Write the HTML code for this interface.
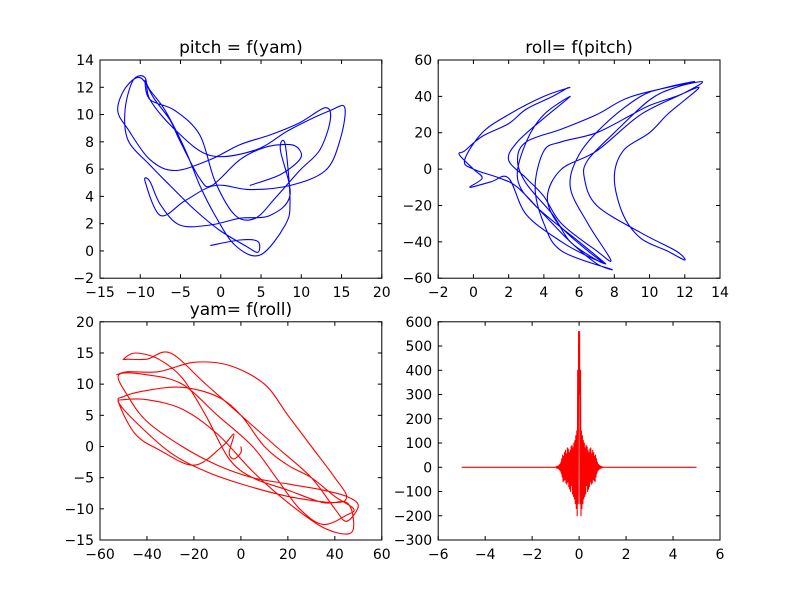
<!DOCTYPE html>
<html><head><meta charset="utf-8"><style>
body{margin:0;background:#fff;}
svg{display:block;font-family:"DejaVu Sans","Liberation Sans",sans-serif;}
</style></head><body>
<svg id="fig" width="800" height="600" viewBox="0 0 800 600"></svg>
<script>
// ---- data ----
const yamTL=[-1.3,2.4,4.6,4.6,3.0,-0.1,-3.2,-6.3,-8.8,-11.5,-11.9,-10.9,-9.4,-8.8,-5.7,-1.3,4.3,8.6,13.6,15.4,14.8,13.0,8.6,3.6,-0.7,-4.4,-7.5,-9.4,-8.8,-7.5,-5.1,-1.3,2.4,6.1,8.6,7.4,8.0,8.6,8.0,4.9,1.8,-0.7,-2.6,-4.4,-6.9,-8.8,-9.4,-8.8,-5.7,-2.6,-0.7,1.8,4.3,6.8,9.8,12.3,13.6,13.0,9.8,6.1,2.4,-1.3,-5.7,-8.8,-11.5,-12.8,-11.9,-10,-8.2,-6.3,-5.1,-2.6,-1.1,2.4,5.5,8.6,9.8,9.8,7.4,3.6];
const pitchTL=[0.4,0.8,0.7,-0.1,0.4,1.5,3.0,4.8,6.3,8.1,10.3,12.5,12.7,11.1,8.9,7.0,7.4,8.9,10.3,10.5,8.1,5.9,4.8,4.5,4.8,3.7,2.6,5.1,5.1,3.4,1.9,1.9,2.4,2.6,4.1,7.4,7.8,3.7,1.9,-0.3,0.4,2.6,4.8,7.4,10.3,11.8,12.5,11.1,10.3,8.5,5.1,2.6,2.4,3.9,5.9,7.4,9.6,10.5,9.4,8.5,7.8,6.7,5.9,6.7,8.9,10.3,11.9,12.7,11.1,9.6,8.1,5.3,4.8,6.7,7.6,7.8,7.4,6.7,5.6,4.8];
const pitchTR=[5.4,4.5,3,2,0.5,-0.5,-0.8,0,0.5,-0.2,1,2,3,5,6.5,7.5,7,5.5,4.5,3,2.5,3,5,7,9,12.5,11,9.5,7.5,6,5.5,6.5,7.8,7,5,4,3,2,2.5,4,5.5,4,3,2.5,3.5,6,7.5,6.5,4.8,4.2,5,7,9.5,12,13,11.5,10,8,6.5,6.3,7,9.5,11.5,12,11,9.5,8.5,8,8.5,10,11,12,12.8,11.5,10,9,7,5,4,3.5,4,5,7.8,7,5.5,4,2.5,1.5,0,-0.5,0.5,2,4,5.5];
const rollTR=[45,40,33,25,18,10,8,0,-5,-10,-7,-5,-25,-40,-48,-52,-50,-40,-25,-8,5,15,22,30,40,48,45,40,25,8,-10,-30,-50,-45,-30,-15,-5,5,15,28,40,30,15,-5,-20,-40,-52,-45,-30,-15,0,10,30,42,48,45,38,20,5,-5,-20,-35,-45,-50,-45,-38,-25,-5,10,20,30,38,45,40,35,30,20,15,10,-10,-30,-45,-55,-52,-40,-25,-10,-5,0,5,20,30,40,45];
const rollBL=[0,0,-3,-5,-3,-8,-20,-35,-45,-52,-50,-40,-25,-10,0,10,20,30,40,48,45,35,25,15,5,-10,-25,-40,-52,-48,-40,-25,-10,5,20,35,45,50,45,40,30,15,0,-15,-30,-40,-48,-50,-45,-35,-25,-15,-5,5,20,35,45,48,46,35,20,5,-10,-25,-40,-50,-52,-45,-30,-15,0,20,40,45,40,30,20,10,-5,-20,-35,-48,-53];
const yamBL=[0,-1,-2,-1,2,0,-3,-0.5,2,7,8,9,9.5,8,5,0,-3,-5,-8,-10,-11,-12.5,-10,-5,0,5,10,11.5,11.5,8,4,0,-3,-5,-6,-7,-8,-9.5,-12,-10,-5,0,5,10,15,14,14,14,15,14,11,5,-2,-5,-7,-9,-9,-12,-14,-13,-9,-4,2,6,7.5,7.5,7,4,-1,-4,-6,-8,-9,-8,-5,0,5,10,13,13.5,12,12,11.5];
const xBR=[-5,-1.0,-0.98,-0.96,-0.94,-0.92,-0.9,-0.88,-0.86,-0.84,-0.82,-0.8,-0.78,-0.76,-0.74,-0.72,-0.7,-0.68,-0.66,-0.64,-0.62,-0.6,-0.58,-0.56,-0.54,-0.52,-0.5,-0.48,-0.46,-0.44,-0.42,-0.4,-0.38,-0.36,-0.34,-0.32,-0.3,-0.28,-0.26,-0.24,-0.22,-0.2,-0.18,-0.16,-0.14,-0.12,-0.1,-0.08,-0.06,-0.04,-0.02,0,0.02,0.04,0.06,0.08,0.1,0.12,0.14,0.16,0.18,0.2,0.22,0.24,0.26,0.28,0.3,0.32,0.34,0.36,0.38,0.4,0.42,0.44,0.46,0.48,0.5,0.52,0.54,0.56,0.58,0.6,0.62,0.64,0.66,0.68,0.7,0.72,0.74,0.76,0.78,0.8,0.82,0.84,0.86,0.88,0.9,0.92,0.94,0.96,0.98,1.0,5];
const yBR=[0,0,2,-3,4,-4,5,-6,8,-10,12,-15,20,-25,35,-40,50,-60,45,-55,60,-50,70,-65,55,-70,80,-60,75,-80,60,-90,70,-100,85,-75,90,-110,80,-120,100,-130,110,-150,130,-170,150,-200,400,-150,560,300,560,-150,400,-200,150,-170,130,-150,110,-130,100,-120,80,-110,90,-75,85,-100,70,-90,60,-80,75,-60,80,-70,55,-65,70,-50,60,-55,45,-60,50,-40,35,-25,20,-15,12,-10,8,-6,5,-4,4,-3,2,0,0];
const ticksTLx=[-15,-10,-5,0,5,10,15,20], ticksTLy=[-2,0,2,4,6,8,10,12,14];
const ticksTRx=[-2,0,2,4,6,8,10,12,14], ticksTRy=[-60,-40,-20,0,20,40,60];
const ticksBLx=[-60,-40,-20,0,20,40,60], ticksBLy=[-15,-10,-5,0,5,10,15,20];
const ticksBRx=[-6,-4,-2,0,2,4,6], ticksBRy=[-300,-200,-100,0,100,200,300,400,500,600];

const NS='http://www.w3.org/2000/svg', fig=document.getElementById('fig');
function mk(tag,attrs,parent){const e=document.createElementNS(NS,tag);for(const k in attrs)e.setAttribute(k,attrs[k]);(parent||fig).appendChild(e);return e;}
const fmt=v=>v<0?'\u2212'+Math.abs(v):String(v);

function pathD(P,smooth){
  if(!smooth) return P.map((p,i)=>(i?'L':'M')+p[0].toFixed(1)+' '+p[1].toFixed(1)).join(' ');
  let d='M'+P[0][0].toFixed(1)+' '+P[0][1].toFixed(1);
  for(let i=0;i<P.length-1;i++){
    const p0=P[i-1]||P[i],p1=P[i],p2=P[i+1],p3=P[i+2]||P[i+1];
    const c1=[p1[0]+(p2[0]-p0[0])/6,p1[1]+(p2[1]-p0[1])/6];
    const c2=[p2[0]-(p3[0]-p1[0])/6,p2[1]-(p3[1]-p1[1])/6];
    d+=' C'+c1[0].toFixed(1)+' '+c1[1].toFixed(1)+' '+c2[0].toFixed(1)+' '+c2[1].toFixed(1)+' '+p2[0].toFixed(1)+' '+p2[1].toFixed(1);
  }
  return d;
}

function panel(name,L,T,W,H,xmin,xmax,ymin,ymax,xt,yt,xs,ys,color,title,smooth){
  const g=mk('g',{});
  
  
  const sx=v=>L+(v-xmin)/(xmax-xmin)*W, sy=v=>T+H-(v-ymin)/(ymax-ymin)*H;
  const P=xs.map((x,i)=>[sx(x),sy(ys[i])]);
  const clip=mk('clipPath',{id:'c'+name},g);mk('rect',{x:L,y:T,width:W,height:H},clip);
  const p=mk('path',{d:pathD(P,smooth),fill:'none',stroke:color,'stroke-width':1.1,'stroke-linejoin':'round','clip-path':'url(#c'+name+')'},g);
  
  
  const fr=mk('rect',{x:L,y:T,width:W,height:H,fill:'none',stroke:'#000','stroke-width':1},g);
  
  
  xt.forEach(v=>{const x=sx(v);
    mk('line',{x1:x,x2:x,y1:T+H,y2:T+H-4,stroke:'#000'},g);
    mk('line',{x1:x,x2:x,y1:T,y2:T+4,stroke:'#000'},g);
    const t=mk('text',{x:x,y:T+H+19,'font-size':14,'text-anchor':'middle'},g);t.textContent=fmt(v);
    
    });
  yt.forEach(v=>{const y=sy(v);
    mk('line',{x1:L,x2:L+4,y1:y,y2:y,stroke:'#000'},g);
    mk('line',{x1:L+W,x2:L+W-4,y1:y,y2:y,stroke:'#000'},g);
    const t=mk('text',{x:L-6,y:y+5,'font-size':14,'text-anchor':'end'},g);t.textContent=fmt(v);
    
    });
  if(title){const t=mk('text',{x:L+W/2,y:T-7,'font-size':17,'text-anchor':'middle'},g);t.textContent=title;
    
    }
}
const W=281.8,H=218.2;
panel('pitch-vs-yam',100,60,W,H,-15,20,-2,14,ticksTLx,ticksTLy,yamTL,pitchTL,'#0000ff','pitch = f(yam)',true);
panel('roll-vs-pitch',438.2,60,W,H,-2,14,-60,60,ticksTRx,ticksTRy,pitchTR,rollTR,'#0000ff','roll= f(pitch)',true);
panel('yam-vs-roll',100,321.8,W,H,-60,60,-15,20,ticksBLx,ticksBLy,rollBL,yamBL,'#ff0000','yam= f(roll)',true);
panel('spectrum',438.2,321.8,W,H,-6,6,-300,600,ticksBRx,ticksBRy,xBR,yBR,'#ff0000','',false);
</script>
</body></html>
